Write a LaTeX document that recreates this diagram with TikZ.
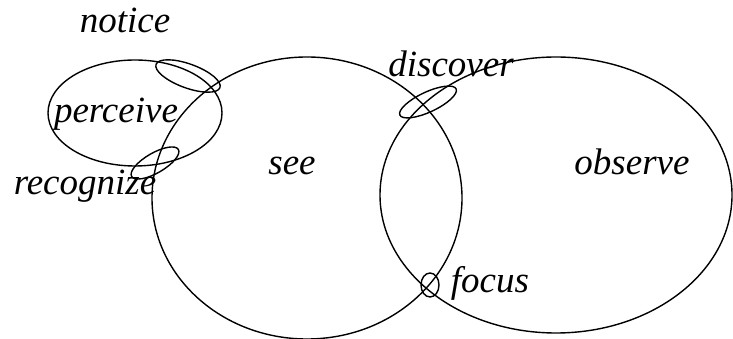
\documentclass[tikz,border=0pt]{standalone}
\usepackage{fontspec}
\setmainfont{Liberation Serif}
\newfontfamily\wordfont{Liberation Serif Italic}
\usepackage{tikz}

\begin{document}
\begin{tikzpicture}[
    x=1pt, y=1pt,
    every node/.style={font=\fontsize{37}{44}\selectfont\wordfont, inner sep=0pt},
    word/.style={anchor=base},
    ring/.style={draw=black, line width=1.4pt}
  ]
    \useasboundingbox (0,0) rectangle (733,339);

    % large regions
    \draw[ring] (307,141) ellipse [x radius=155pt, y radius=141pt];
    \draw[ring] (556,144) ellipse [x radius=176pt, y radius=138pt];
    \draw[ring] (135,226) ellipse [x radius=87pt, y radius=53pt];

    % small overlaps
    \draw[ring, shift={(188,263)}, rotate=-20] (0,0) ellipse [x radius=34pt, y radius=12pt];
    \draw[ring, shift={(155,176)}, rotate=30] (0,0) ellipse [x radius=27pt, y radius=10pt];
    \draw[ring, shift={(428,237)}, rotate=25] (0,0) ellipse [x radius=31pt, y radius=10pt];
    \draw[ring] (430,54) ellipse [x radius=9pt, y radius=12pt];

    % labels
    \node[word] (notice) at (125,306) {notice};
    \node[word] (perceive) at (116,216) {perceive};
    \node[word] (recognize) at (85,144) {recognize};
    \node[word] (see) at (292,164) {see};
    \node[word] (observe) at (632,164) {observe};
    \node[word] (discover) at (451,262) {discover};
    \node[word] (focus) at (490,46) {focus};
  \end{tikzpicture}
\end{document}
